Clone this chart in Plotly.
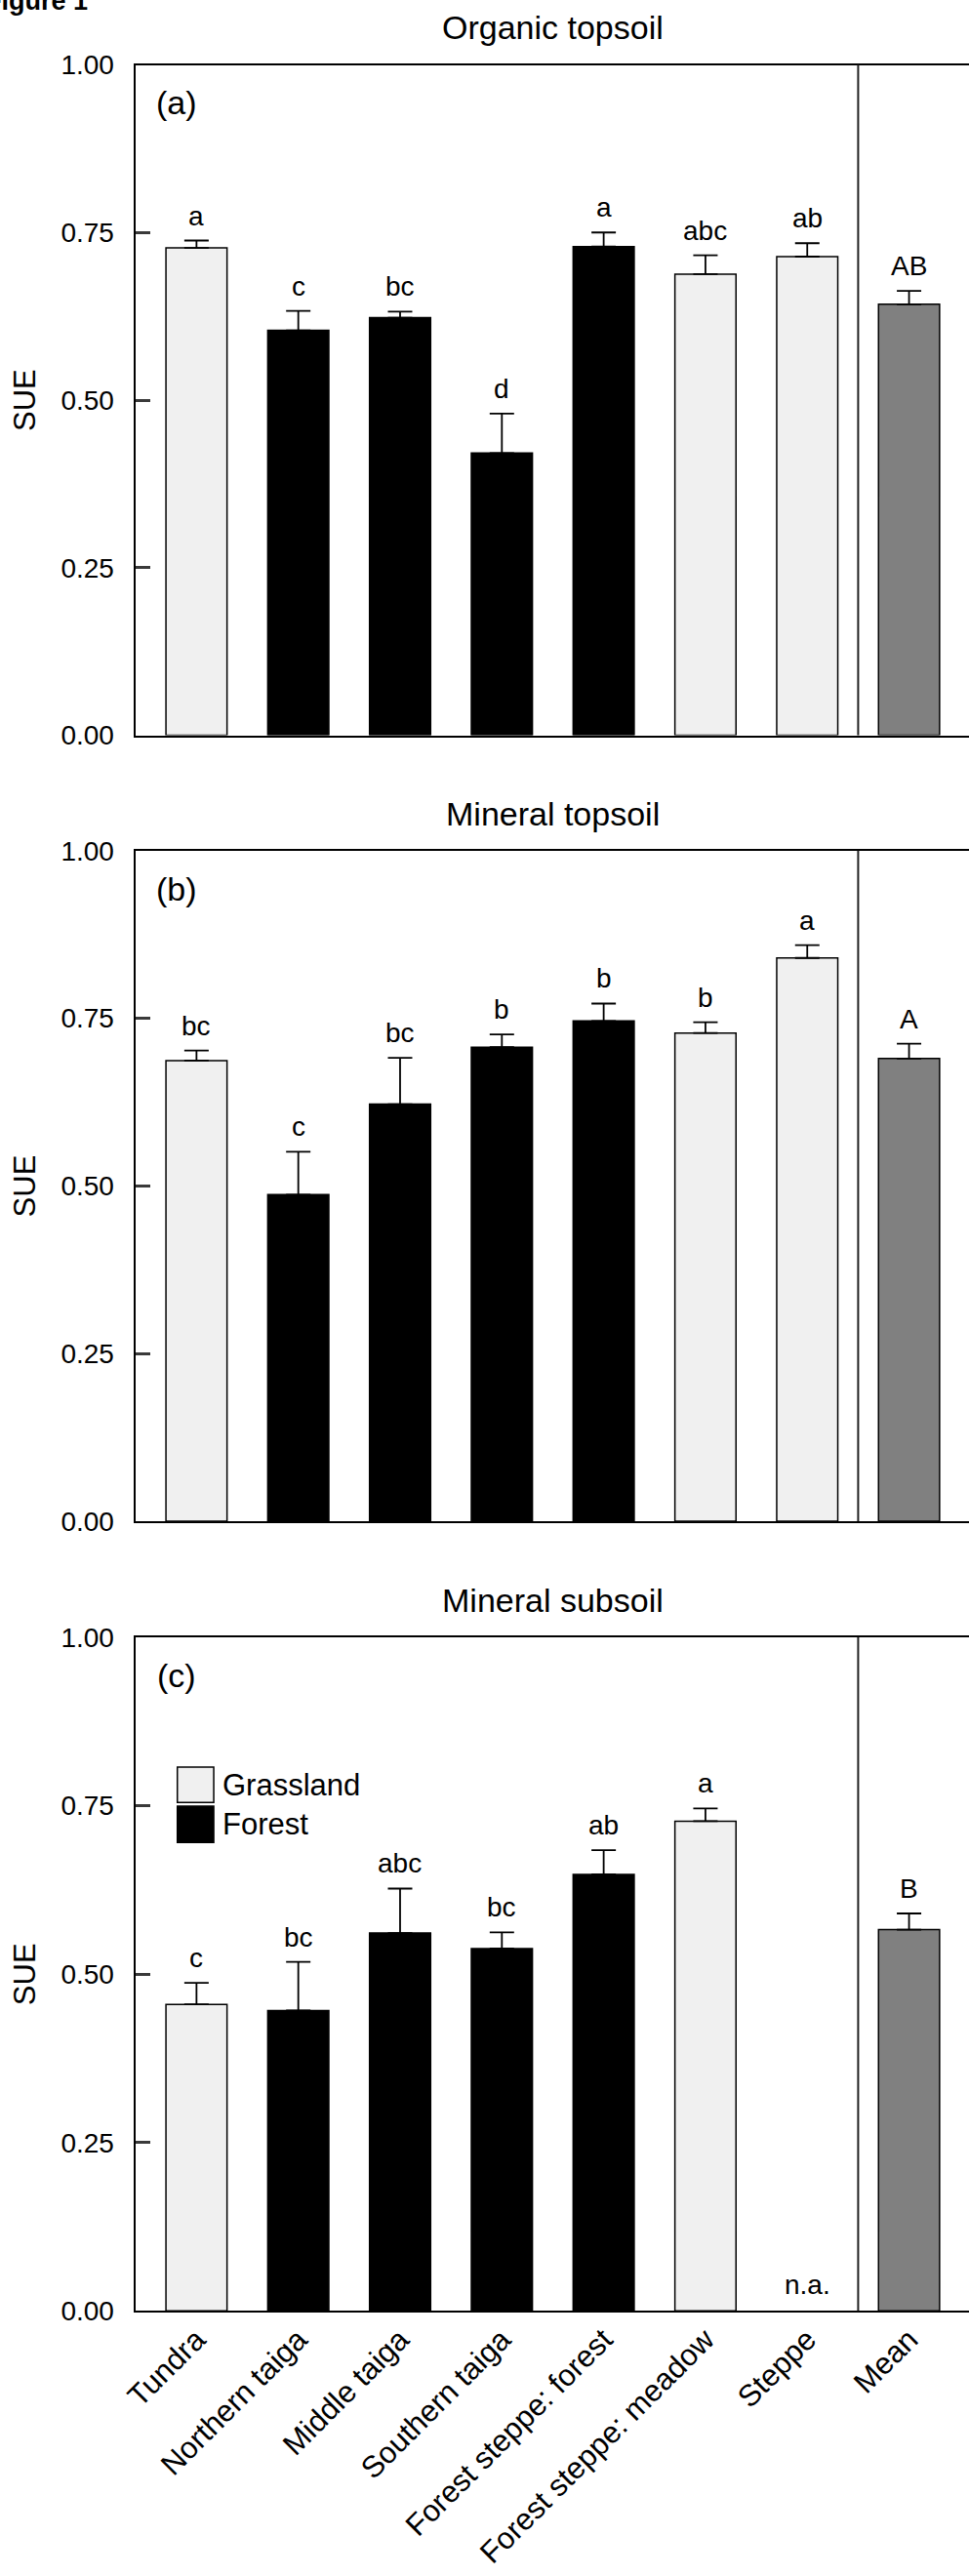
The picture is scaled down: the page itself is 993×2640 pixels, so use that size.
import plotly.graph_objects as go

# ---------------- data ----------------
categories = ["Tundra", "Northern taiga", "Middle taiga", "Southern taiga",
              "Forest steppe: forest", "Forest steppe: meadow", "Steppe", "Mean"]
vegetation = ["Grassland", "Forest", "Forest", "Forest", "Forest",
              "Grassland", "Grassland", "Mean"]
panel_titles = ["Organic topsoil", "Mineral topsoil", "Mineral subsoil"]
panel_tags = ["(a)", "(b)", "(c)"]

organic_topsoil_sue = [0.727, 0.604, 0.623, 0.421, 0.729, 0.688, 0.714, 0.643]
organic_topsoil_se = [0.011, 0.029, 0.009, 0.059, 0.021, 0.028, 0.020, 0.020]
organic_topsoil_letters = ["a", "c", "bc", "d", "a", "abc", "ab", "AB"]

mineral_topsoil_sue = [0.687, 0.487, 0.622, 0.707, 0.746, 0.728, 0.840, 0.690]
mineral_topsoil_se = [0.015, 0.064, 0.069, 0.019, 0.026, 0.016, 0.019, 0.022]
mineral_topsoil_letters = ["bc", "c", "bc", "b", "b", "b", "a", "A"]

mineral_subsoil_sue = [0.455, 0.446, 0.561, 0.538, 0.648, 0.727, None, 0.566]
mineral_subsoil_se = [0.032, 0.072, 0.066, 0.024, 0.036, 0.019, None, 0.024]
mineral_subsoil_letters = ["c", "bc", "abc", "bc", "ab", "a", "n.a.", "B"]

y_ticks = [0.0, 0.25, 0.5, 0.75, 1.0]

# ---------------- styling ----------------
FONT = "Liberation Sans, Arial, sans-serif"
fill = {"Grassland": "#f0f0f0", "Forest": "#000000", "Mean": "#808080"}
W, H = 993, 2640
x_dom = [139.3 / W, 1.0]
# panel pixel extents (top, bottom) in page coordinates
panel_px = [(66.5, 753.6), (871.8, 1559.0), (1678.0, 2368.3)]
x_range = [-0.595, 7.589]

panels = [
    (organic_topsoil_sue, organic_topsoil_se, organic_topsoil_letters),
    (mineral_topsoil_sue, mineral_topsoil_se, mineral_topsoil_letters),
    (mineral_subsoil_sue, mineral_subsoil_se, mineral_subsoil_letters),
]

fig = go.Figure()
positions = list(range(len(categories)))
layout = dict(
    width=W, height=H, margin=dict(l=0, r=0, t=0, b=0),
    paper_bgcolor="white", plot_bgcolor="white",
    showlegend=False, font=dict(family=FONT, color="black"),
    bargap=0.4,
)
annotations = []
shapes = []

for i, ((vals, errs, letters), title, tag) in enumerate(zip(panels, panel_titles, panel_tags)):
    k = i + 1
    xa = "x" if k == 1 else f"x{k}"
    ya = "y" if k == 1 else f"y{k}"
    top, bot = panel_px[i]
    fig.add_trace(go.Bar(
        x=positions, y=vals, width=0.6,
        marker=dict(color=[fill[v] for v in vegetation],
                    line=dict(color="black", width=1.5)),
        error_y=dict(type="data", symmetric=False,
                     array=[e if e is not None else 0 for e in errs],
                     arrayminus=[0] * len(errs),
                     color="black", thickness=1.8, width=12.5),
        xaxis=xa, yaxis=ya, hoverinfo="x+y",
    ))
    layout[f"xaxis{'' if k == 1 else k}"] = dict(
        domain=x_dom, anchor=ya, range=x_range,
        showline=True, mirror=True, linecolor="black", linewidth=1.5,
        ticks="", showgrid=False, zeroline=False,
        tickmode="array", tickvals=positions, ticktext=categories,
        showticklabels=(k == 3), tickangle=-45,
        tickfont=dict(family=FONT, size=31, color="black"),
        ticklabelstandoff=-3,
        automargin=False,
    )
    layout[f"yaxis{'' if k == 1 else k}"] = dict(
        domain=[1 - bot / H, 1 - top / H], anchor=xa, range=[0, 1],
        showline=True, mirror=False, linecolor="black", linewidth=1.5,
        ticks="inside", ticklen=15, tickwidth=2.5, tickcolor="#3a3a3a",
        tickmode="array", tickvals=y_ticks,
        ticktext=[f"{t:.2f}" for t in y_ticks],
        tickfont=dict(family=FONT, size=28, color="black"),
        ticklabelstandoff=15,
        showgrid=False, zeroline=False, automargin=False,
    )
    # divider between biomes and mean
    shapes.append(dict(type="line", xref=xa, yref=f"{ya} domain",
                       x0=6.5, x1=6.5, y0=0, y1=1,
                       line=dict(color="#222222", width=2)))
    # panel title
    annotations.append(dict(text=title, xref=f"{xa} domain", yref=f"{ya} domain",
                            x=0.5, y=1, yshift=38, xanchor="center", yanchor="middle",
                            showarrow=False, font=dict(family=FONT, size=34)))
    # panel tag
    annotations.append(dict(text=tag, xref=f"{xa} domain", yref=f"{ya} domain",
                            x=0.0488, y=1, yshift=-39, xanchor="center", yanchor="middle",
                            showarrow=False, font=dict(family=FONT, size=34)))
    # y title
    annotations.append(dict(text="SUE", xref="paper", yref=f"{ya} domain",
                            x=25 / W, y=0.5, textangle=-90, xanchor="center",
                            yanchor="middle", showarrow=False,
                            font=dict(family=FONT, size=31)))
    # significance letters
    for p, v, e, lt in zip(positions, vals, errs, letters):
        if v is None:
            annotations.append(dict(text=lt, xref=xa, yref=ya, x=p, y=0,
                                    yshift=9, xanchor="center", yanchor="bottom",
                                    showarrow=False, font=dict(family=FONT, size=28)))
        else:
            annotations.append(dict(text=lt, xref=xa, yref=ya, x=p, y=v + e,
                                    yshift=8, xanchor="center", yanchor="bottom",
                                    showarrow=False, font=dict(family=FONT, size=28)))

# legend in panel (c)
legend_items = [("Grassland", 0.8073, 0.7548), ("Forest", 0.7494, 0.6954)]
for name, y1, y0 in legend_items:
    shapes.append(dict(type="rect", xref="x3 domain", yref="y3 domain",
                       x0=0.0497, x1=0.0934, y0=y0, y1=y1,
                       fillcolor=fill[name], line=dict(color="black", width=1.5)))
    annotations.append(dict(text=name, xref="x3 domain", yref="y3 domain",
                            x=0.1016, y=(y0 + y1) / 2, xanchor="left", yanchor="middle",
                            showarrow=False, font=dict(family=FONT, size=31)))

# figure caption (partly cut at the page edge, as in the original)
annotations.append(dict(text="<b>Figure 1</b>", xref="paper", yref="paper",
                        x=-17 / W, y=1 - 18 / H, xanchor="left", yanchor="bottom",
                        showarrow=False, font=dict(family=FONT, size=27)))

layout["annotations"] = annotations
layout["shapes"] = shapes
fig.update_layout(**layout)
fig.write_html("out.html")
